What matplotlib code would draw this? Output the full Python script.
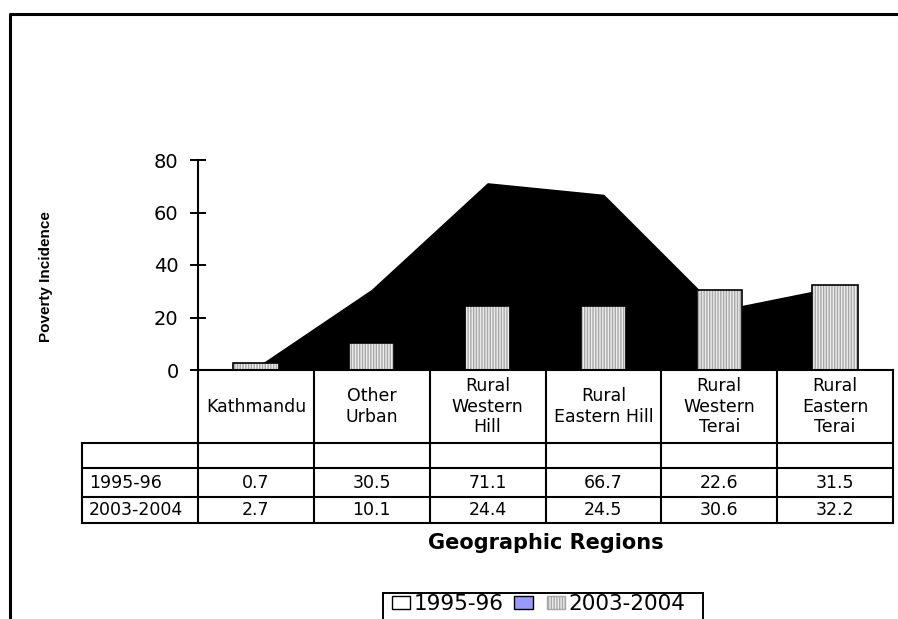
import numpy as np
import matplotlib
matplotlib.use("Agg")
import matplotlib.pyplot as plt
from matplotlib.patches import Patch, Rectangle
from matplotlib.lines import Line2D

# ---- data -------------------------------------------------------------
categories = ['Kathmandu', 'Other\nUrban', 'Rural\nWestern\nHill',
              'Rural\nEastern Hill', 'Rural\nWestern\nTerai', 'Rural\nEastern\nTerai']
series_names = ['1995-96', '2003-2004']
poverty_1995 = [0.7, 30.5, 71.1, 66.7, 22.6, 31.5]
poverty_2003 = [2.7, 10.1, 24.4, 24.5, 30.6, 32.2]
y_ticks = [0, 20, 40, 60, 80]

# ---- figure geometry (pixels) ------------------------------------------
W, H = 898, 619
fig = plt.figure(figsize=(W / 100, H / 100), dpi=100)
plt.rcParams['font.family'] = ['DejaVu Sans']


def fx(px):
    return px / W


def fy(py):
    return 1 - py / H


PLOT_L, PLOT_R, PLOT_T, PLOT_B = 198, 893, 160, 370
ax = fig.add_axes([fx(PLOT_L), fy(PLOT_B), (PLOT_R - PLOT_L) / W, (PLOT_B - PLOT_T) / H])

x = np.arange(len(categories))
hatch_face = '#ededed'
hatch_line = '#a8a8a8'

# 1995-96 as a filled area, 2003-2004 as hatched columns in front
ax.fill_between(x, poverty_1995, 0, facecolor='black', edgecolor='black', lw=1, zorder=1)
ax.bar(x, poverty_2003, width=0.39, facecolor=hatch_face, edgecolor=hatch_line,
       hatch='||||||', linewidth=0, zorder=2)
ax.bar(x, poverty_2003, width=0.39, facecolor='none', edgecolor='black',
       linewidth=1.2, zorder=3)

ax.set_xlim(-0.5, len(categories) - 0.5)
ax.set_ylim(y_ticks[0], y_ticks[-1])
ax.set_yticks(y_ticks)
ax.set_yticklabels([str(t) for t in y_ticks], fontsize=14)
ax.set_xticks([])
ax.tick_params(axis='y', direction='inout', length=12, width=1.4, pad=8)
for side in ('top', 'right'):
    ax.spines[side].set_visible(False)
for side in ('left', 'bottom'):
    ax.spines[side].set_linewidth(1.5)

ax.set_ylabel('Poverty Incidence', family=['Liberation Sans', 'DejaVu Sans'],
              fontsize=11, fontweight='bold')
ax.yaxis.set_label_coords((53 - PLOT_L) / (PLOT_R - PLOT_L),
                          (PLOT_B - 277) / (PLOT_B - PLOT_T))

# ---- data table under the axis -----------------------------------------
tr = ax.get_xaxis_transform()


def ay(py):
    return (PLOT_B - py) / (PLOT_B - PLOT_T)


row_edges = [370, 443, 468, 497, 523]
n = len(categories)
lw_tab = 1.5
# vertical lines
for b in np.arange(-0.5, n, 1.0):
    ax.add_line(Line2D([b, b], [ay(row_edges[0]), ay(row_edges[-1])], transform=tr,
                       color='black', lw=lw_tab, clip_on=False))
ax.add_line(Line2D([-1.5, -1.5], [ay(row_edges[1]), ay(row_edges[-1])], transform=tr,
                   color='black', lw=lw_tab, clip_on=False))
# horizontal lines
for r in row_edges[1:]:
    ax.add_line(Line2D([-1.5, n - 0.5], [ay(r), ay(r)], transform=tr,
                       color='black', lw=lw_tab, clip_on=False))

for i, c in enumerate(categories):
    ax.text(i, ay((row_edges[0] + row_edges[1]) / 2), c, transform=tr, ha='center',
            va='center', fontsize=12.5, linespacing=1.15, clip_on=False)

for r, (name, vals) in enumerate(zip(series_names, [poverty_1995, poverty_2003])):
    yc = ay((row_edges[2 + r] + row_edges[3 + r]) / 2)
    ax.text(-1.5 + 0.06, yc, name, transform=tr, ha='left', va='center',
            fontsize=12.5, clip_on=False)
    for i, v in enumerate(vals):
        ax.text(i, yc, f'{v:.1f}', transform=tr, ha='center', va='center',
                fontsize=12.5, clip_on=False)

ax.text(0.5, ay(543), 'Geographic Regions', transform=ax.transAxes, ha='center',
        va='center', fontsize=15, fontweight='bold')

# ---- legend ------------------------------------------------------------
handles = [Patch(facecolor='white', edgecolor='black', lw=1),
           Patch(facecolor='#9999ff', edgecolor='black', lw=1),
           Patch(facecolor=hatch_face, edgecolor=hatch_line, hatch='||||||', lw=1)]
labels = [series_names[0], '', series_names[1]]
fig.legend(handles, labels, loc='upper left', bbox_to_anchor=(fx(392), fy(594)),
           ncol=3, frameon=False, fontsize=15.5, handlelength=0.85, handleheight=0.55,
           handletextpad=0.15, columnspacing=0.5, borderpad=0.0, borderaxespad=0)
fig.add_artist(Rectangle((fx(383), fy(593) - 0.2), (703 - 383) / W, 0.2,
                         transform=fig.transFigure, fill=False, edgecolor='black',
                         lw=1.4, clip_on=False))

# ---- outer chart border ------------------------------------------------
fig.add_artist(Line2D([fx(10), fx(10), 1.02], [-0.02, fy(14), fy(14)],
                      transform=fig.transFigure, color='black', lw=2.2))

fig.savefig('out.png', dpi=100)
